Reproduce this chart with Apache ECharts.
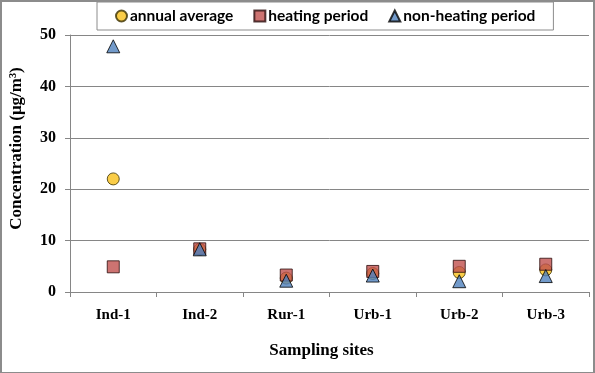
<!DOCTYPE html>
<html>
<head>
<meta charset="utf-8">
<script src="https://cdn.jsdelivr.net/npm/echarts@6/dist/echarts.min.js"></script>
<style>
  html, body { margin: 0; padding: 0; background: #fff; }
  #frame { position: absolute; left: 0; top: 0; width: 591px; height: 370px; border: 2px solid #8c8c8c; }
  #chart { position: absolute; left: 0; top: 0; width: 595px; height: 373px; }
</style>
</head>
<body>
<div id="frame"></div>
<div id="chart"></div>
<script>
// 采样点
const sites = ['Ind-1', 'Ind-2', 'Rur-1', 'Urb-1', 'Urb-2', 'Urb-3'];
// 浓度 (μg/m³)
const annualAvg = [22.0, 8.3, 2.7, 3.6, 3.8, 4.3];
const heatingPeriod = [4.9, 8.4, 3.3, 4.0, 5.0, 5.4];
const nonHeatingPeriod = [47.8, 8.3, 2.2, 3.2, 2.1, 3.1];
const yTicks = [0, 10, 20, 30, 40, 50];

const serif = '"Liberation Serif", "Times New Roman", serif';

const chart = echarts.init(document.getElementById('chart'));

const option = {
    animation: false,
    legend: {
        top: 2,
        left: 97,
        padding: [6, 18, 6, 18],
        itemGap: 20,
        itemWidth: 11,
        itemHeight: 11,
        borderColor: '#8c8c8c',
        borderWidth: 1,
        textStyle: {
            fontFamily: 'Lato, "Open Sans", sans-serif',
            fontWeight: 'bold',
            fontSize: 15.5,
            color: '#000',
            padding: [0, 0, 0, -2]
        },
        data: [
            {name: 'annual average', icon: 'circle'},
            {name: 'heating period', icon: 'rect'},
            {name: 'non-heating period', icon: 'triangle'}
        ]
    },
    grid: {
        left: 70,
        right: 6,
        top: 35,
        bottom: 81,
        containLabel: false,
        outerBoundsMode: 'none'
    },
    xAxis: {
        type: 'category',
        data: sites,
        boundaryGap: true,
        name: 'Sampling sites',
        nameLocation: 'middle',
        nameGap: 50,
        nameTextStyle: {
            fontFamily: serif,
            fontWeight: 'bold',
            fontSize: 17,
            color: '#000',
            padding: [0, 16, 0, 0]
        },
        axisLine: {lineStyle: {color: '#868686', width: 1}},
        axisTick: {show: true, length: 5, lineStyle: {color: '#868686'}},
        axisLabel: {
            margin: 16,
            fontFamily: serif,
            fontWeight: 'bold',
            fontSize: 15,
            color: '#000'
        }
    },
    yAxis: {
        type: 'value',
        min: yTicks[0],
        max: yTicks[yTicks.length - 1],
        interval: 10,
        name: 'Concentration (μg/m³)',
        nameLocation: 'middle',
        nameGap: 45,
        nameTextStyle: {
            fontFamily: serif,
            fontWeight: 'bold',
            fontSize: 17,
            color: '#000',
            padding: [0, 0, 0, 30]
        },
        axisLine: {show: true, lineStyle: {color: '#868686', width: 1}},
        axisTick: {show: true, length: 5, lineStyle: {color: '#868686'}},
        splitLine: {lineStyle: {color: '#868686', width: 1}},
        axisLabel: {
            margin: 14,
            fontFamily: serif,
            fontWeight: 'bold',
            fontSize: 16,
            color: '#000'
        }
    },
    series: [
        {
            name: 'annual average',
            type: 'scatter',
            symbol: 'circle',
            symbolSize: 12,
            data: annualAvg,
            itemStyle: {color: '#f9c01a', borderColor: '#3a3000', borderWidth: 1}
        },
        {
            name: 'heating period',
            type: 'scatter',
            symbol: 'rect',
            symbolSize: 12,
            data: heatingPeriod,
            itemStyle: {color: '#c0504d', borderColor: '#2a0c0c', borderWidth: 1}
        },
        {
            name: 'non-heating period',
            type: 'scatter',
            symbol: 'triangle',
            symbolSize: 13,
            data: nonHeatingPeriod,
            itemStyle: {color: '#4f81bd', borderColor: '#000', borderWidth: 1}
        }
    ]
};

chart.setOption(option);
</script>
</body>
</html>
